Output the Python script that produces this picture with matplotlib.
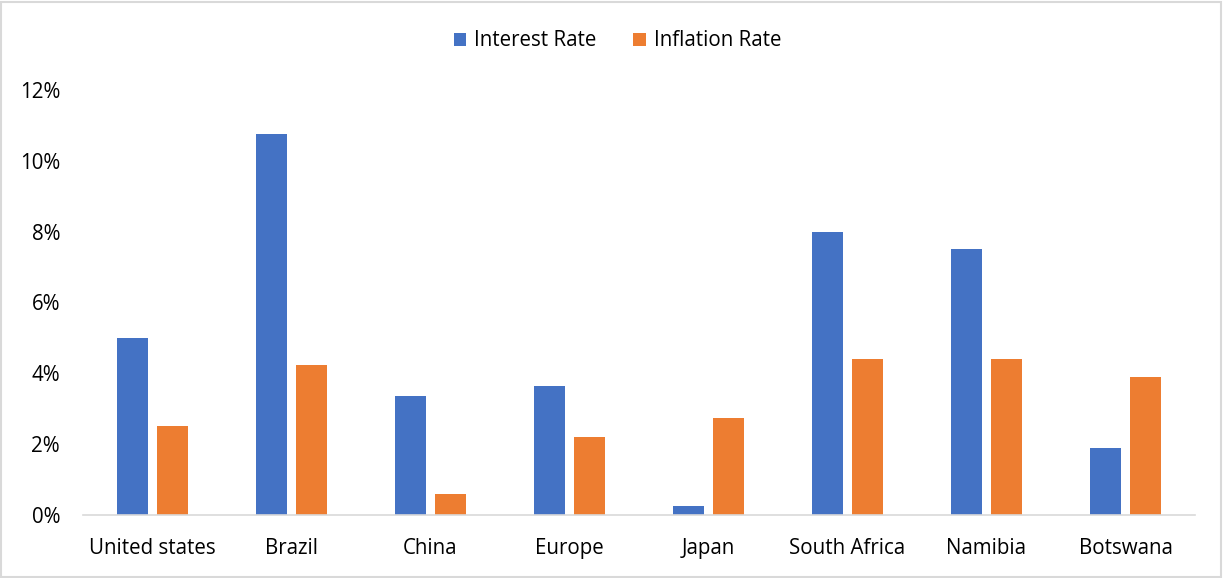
import matplotlib
matplotlib.use("Agg")
import matplotlib.pyplot as plt
import numpy as np
from matplotlib.ticker import FuncFormatter, MultipleLocator
from matplotlib.patches import Rectangle

categories = ["United states", "Brazil", "China", "Europe", "Japan", "South Africa", "Namibia", "Botswana"]
interest_rate = [5.0, 10.75, 3.35, 3.65, 0.25, 8.0, 7.5, 1.9]
inflation_rate = [2.5, 4.24, 0.6, 2.2, 2.75, 4.4, 4.4, 3.9]
series_names = ["Interest Rate", "Inflation Rate"]

W, H = 1223, 578
fig = plt.figure(figsize=(W / 100, H / 100), dpi=100)
plt.rcParams['font.family'] = ['Open Sans', 'DejaVu Sans']

ax = fig.add_axes([83 / W, 1 - 515 / H, (1195 - 83) / W, (515 - 90) / H])

x = np.arange(len(categories))
bw = 0.225
gap = 0.06
b1 = ax.bar(x - (bw + gap) / 2, interest_rate, bw, color="#4472C4", label=series_names[0])
b2 = ax.bar(x + (bw + gap) / 2, inflation_rate, bw, color="#ED7D31", label=series_names[1])

ax.set_xlim(-0.5, len(categories) - 0.5)
ax.set_ylim(0, 12)
ax.yaxis.set_major_locator(MultipleLocator(2))
ax.yaxis.set_major_formatter(FuncFormatter(lambda v, p: f"{int(round(v))}%"))
ax.set_xticks(x)
ax.set_xticklabels(categories)
ax.tick_params(axis="both", length=0, labelsize=14.8, colors="#000000")
ax.tick_params(axis="x", pad=16.5)
ax.tick_params(axis="y", pad=16.5)
for s in ["top", "right", "left"]:
    ax.spines[s].set_visible(False)
ax.spines["bottom"].set_color("#D9D9D9")
ax.spines["bottom"].set_linewidth(1.2)

leg = fig.legend(handles=[b1, b2], labels=series_names, loc="center",
                 bbox_to_anchor=(0.5 + 6 / W, 1 - 41 / H), ncol=2, frameon=False,
                 fontsize=14.8, handlelength=0.6, handleheight=0.6, handletextpad=0.4,
                 columnspacing=1.8)

fig.patches.append(Rectangle((1 / W, 1 / H), 1 - 3 / W, 1 - 3 / H, transform=fig.transFigure,
                             fill=False, edgecolor="#D9D9D9", linewidth=1.5))

fig.savefig("out.png", dpi=100, facecolor="white")
